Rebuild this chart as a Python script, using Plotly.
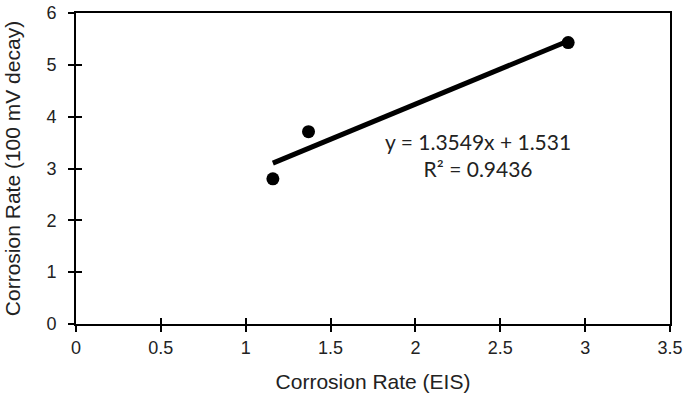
import plotly.graph_objects as go

eis_rate = [1.16, 1.37, 2.90]
decay_rate = [2.80, 3.71, 5.43]
slope = 1.3549
intercept = 1.531
r_squared = 0.9436
x_ticks = [0, 0.5, 1, 1.5, 2, 2.5, 3, 3.5]
y_ticks = [0, 1, 2, 3, 4, 5, 6]

x_line = [min(eis_rate), max(eis_rate)]
y_line = [slope * v + intercept for v in x_line]

fig = go.Figure()
fig.add_trace(go.Scatter(x=x_line, y=y_line, mode="lines",
                         line=dict(color="black", width=5), hoverinfo="skip"))
fig.add_trace(go.Scatter(x=eis_rate, y=decay_rate, mode="markers",
                         marker=dict(color="black", size=13)))

fig.add_annotation(x=2.37, y=3.26, xref="x", yref="y", showarrow=False,
                   text=f"y = {slope}x + {intercept}<br>R² = {r_squared}",
                   font=dict(family="Lato, Open Sans", size=21, color="#222"),
                   align="center")

axis_font = dict(family="Liberation Sans, Arial", size=18, color="#222")
title_font = dict(family="Liberation Sans, Arial", size=21, color="#222")
fig.update_layout(
    width=685, height=397,
    margin=dict(l=76, r=15, t=13, b=73, autoexpand=False),
    paper_bgcolor="white", plot_bgcolor="white",
    showlegend=False,
    xaxis=dict(range=[0, 3.5], tickvals=x_ticks, ticktext=[str(v) for v in x_ticks],
               showgrid=False, zeroline=False, showline=True, linecolor="black", linewidth=2,
               mirror=True, ticks="outside", ticklen=6, tickwidth=1.5, tickcolor="black",
               tickfont=axis_font, automargin=False,
               title=dict(text="Corrosion Rate (EIS)", font=title_font, standoff=18)),
    yaxis=dict(range=[0, 6], tickvals=y_ticks,
               showgrid=False, zeroline=False, showline=True, linecolor="black", linewidth=2,
               mirror=True, ticks="outside", ticklen=6, tickwidth=1.5, tickcolor="black",
               tickfont=axis_font, automargin=False, ticklabelstandoff=8,
               title=dict(text="Corrosion Rate (100 mV decay)", font=title_font, standoff=20)),
    xaxis2=dict(range=[0, 3.5], tickvals=x_ticks, overlaying="x", side="bottom",
                showticklabels=False, ticks="inside", ticklen=6, tickwidth=1.5, tickcolor="black",
                showgrid=False, zeroline=False, showline=False),
    yaxis2=dict(range=[0, 6], tickvals=y_ticks, overlaying="y", side="left",
                showticklabels=False, ticks="inside", ticklen=6, tickwidth=1.5, tickcolor="black",
                showgrid=False, zeroline=False, showline=False),
)
fig.add_trace(go.Scatter(x=[None], y=[None], xaxis="x2", yaxis="y2", showlegend=False))

fig.write_html("out.html", config={"displayModeBar": False},
               post_script="document.body.style.margin='0';")
